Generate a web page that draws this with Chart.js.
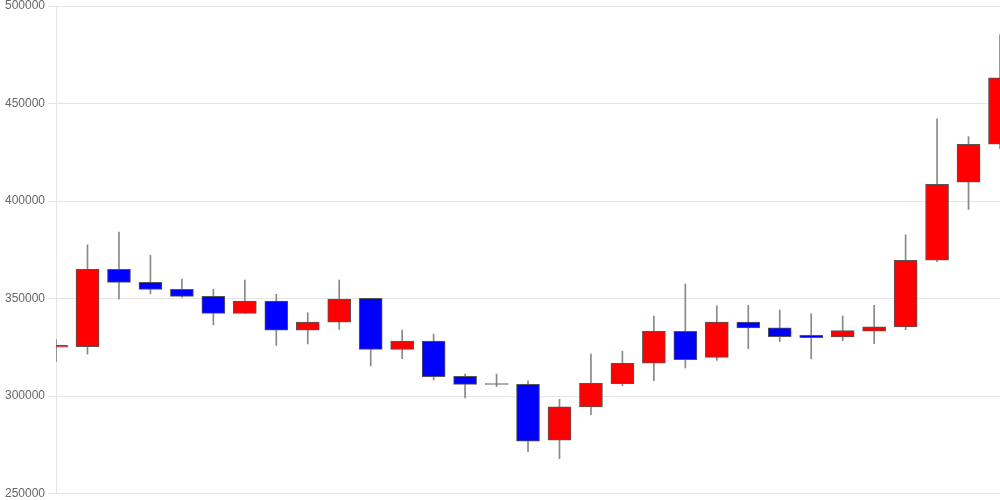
<!DOCTYPE html>
<html>
<head>
<meta charset="utf-8">
<script src="https://cdn.jsdelivr.net/npm/chart.js@4/dist/chart.umd.min.js"></script>
<style>
  html, body { margin: 0; padding: 0; background: #fff; }
  #wrap { width: 1000px; height: 500px; position: relative; }
</style>
</head>
<body>
<div id="wrap"><canvas id="c"></canvas></div>
<script>
const categories = ['1','2','3','4','5','6','7','8','9','10','11','12','13','14','15','16','17','18','19','20','21','22','23','24','25','26','27','28','29','30','31'];
const opens  = [325000,325300,365000,358300,354700,351100,342400,348700,333700,337900,350100,323900,328200,310100,306100,306000,277300,294400,306300,316800,333200,319800,337900,335000,331100,330300,333300,335400,369600,409600,429100];
const closes = [326000,365000,358300,354700,351100,342400,348700,333700,337900,349700,323900,328200,309900,306000,305900,276800,294500,306500,316800,333200,318600,337900,334900,330400,329900,333500,335500,369600,408600,429100,463200];
const highs  = [329100,377500,384100,372200,360000,354700,359500,352200,342600,359500,350100,333800,331800,311300,311300,307800,298300,321500,323100,341000,357400,346200,346500,344100,342100,341000,346500,382600,442100,433000,485300];
const lows   = [317600,321400,349700,352300,350600,336400,342400,326000,326700,334200,315400,319100,308200,299000,304800,271400,267800,290400,305300,307800,314400,318300,324300,327800,319000,328400,326800,334000,368900,395700,426800];
const yTicks = [250000,300000,350000,400000,450000,500000];

const bodyColors = opens.map((o, i) => {
  const d = closes[i] - o;
  if (Math.abs(d) < 300) return '#777777';
  return d > 0 ? '#ff0000' : '#0000ff';
});

new Chart(document.getElementById('c'), {
  type: 'bar',
  data: {
    labels: categories,
    datasets: [
      {
        label: 'body',
        data: opens.map((o, i) => [o, closes[i]]),
        backgroundColor: bodyColors,
        borderColor: '#555555',
        borderWidth: 1,
        borderSkipped: false,
        barThickness: 23,
        minBarLength: 1,
        grouped: false,
        clip: 0
      },
      {
        label: 'wick',
        data: lows.map((l, i) => [l, highs[i]]),
        backgroundColor: '#888888',
        borderWidth: 0,
        barThickness: 1,
        grouped: false,
        clip: 0
      }
    ]
  },
  options: {
    responsive: true,
    maintainAspectRatio: false,
    animation: false,
    layout: { padding: { left: 2, top: 0, bottom: 0 } },
    plugins: { legend: { display: false }, tooltip: { enabled: false } },
    scales: {
      x: {
        display: false,
        offset: false
      },
      y: {
        min: 250000,
        max: 500000,
        afterBuildTicks: (axis) => { axis.ticks = yTicks.map(v => ({ value: v })); },
        afterFit: (axis) => { axis.paddingTop = 6; axis.paddingBottom = 6.5; },
        ticks: { color: '#666', font: { size: 12 }, callback: (v) => String(v) },
        grid: { color: 'rgba(0,0,0,0.1)' },
        border: { color: 'rgba(0,0,0,0.1)' }
      }
    }
  }
});
</script>
</body>
</html>
